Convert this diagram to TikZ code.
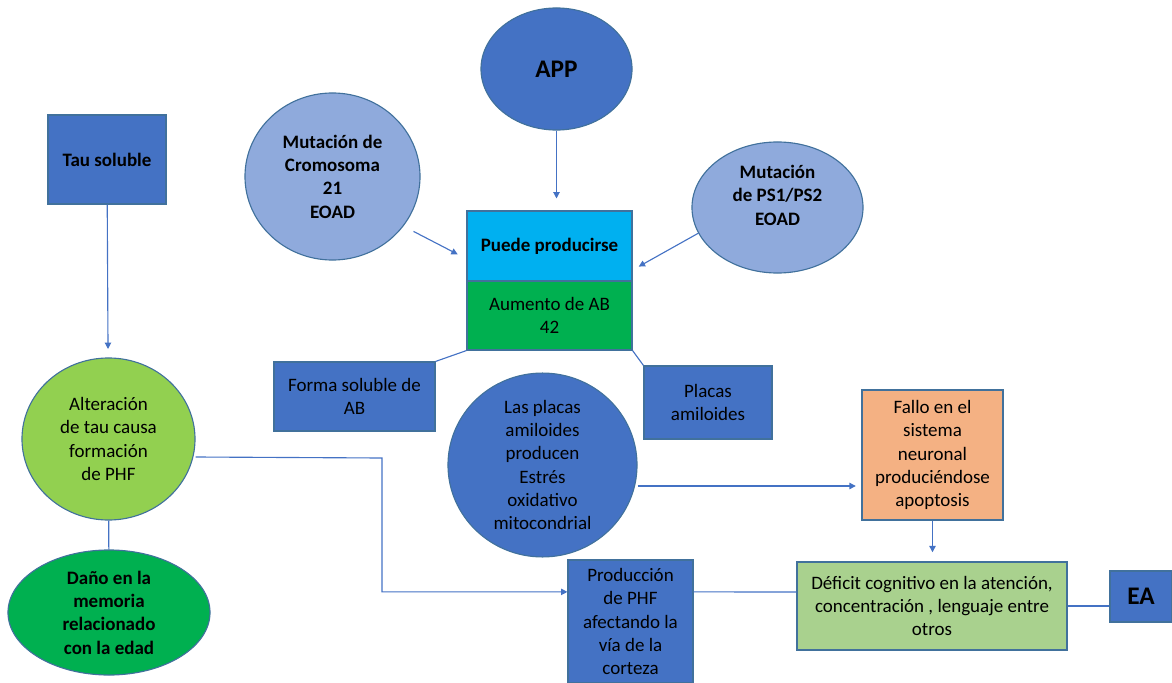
\documentclass[tikz,border=0pt]{standalone}
\usepackage{fontspec}
\setmainfont{Carlito}
\usetikzlibrary{shapes.geometric,arrows.meta}
\definecolor{azul}{HTML}{4472C4}
\definecolor{azulclaro}{HTML}{8FAADC}
\definecolor{celeste}{HTML}{00B0F0}
\definecolor{verde}{HTML}{00B050}
\definecolor{verdelima}{HTML}{92D050}
\definecolor{verdepalido}{HTML}{A9D18E}
\definecolor{naranja}{HTML}{F4B183}
\definecolor{borde}{HTML}{41719C}
\newcommand{\txt}{\fontsize{13.5}{16.6}\selectfont}

\begin{document}
\begin{tikzpicture}[x=0.025cm,y=-0.025cm,
    >={Triangle[length=4.5pt,width=4.5pt]},
    every node/.style={align=center,font=\txt,text=black,inner sep=0pt},
    caja/.style={rectangle,draw=borde,line width=0.8pt},
    elipse/.style={ellipse,draw=borde,line width=0.8pt},
    negrita/.style={font=\txt\bfseries},
    conn/.style={draw=azul,line width=0.8pt}]
    \useasboundingbox (0,0) rectangle (1172,683);

    % columna de tau
    \node[caja,negrita,fill=azul,minimum width=2.95cm,minimum height=2.225cm] (tau) at (107,159.5) {Tau soluble};
    \node[elipse,fill=verdelima,minimum width=4.325cm,minimum height=4.05cm] (alter) at (108.5,439) {Alteración\\de tau causa\\formación\\de PHF};
    \node[elipse,negrita,fill=verde,minimum width=5.05cm,minimum height=3.125cm] (dano) at (109,612.5) {Daño en la\\memoria\\relacionado\\con la edad};

    % parte central
    \node[elipse,fill=azul,minimum width=3.775cm,minimum height=3.05cm,font=\fontsize{18}{20}\selectfont\bfseries] (app) at (556.5,69) {APP};
    \node[elipse,negrita,fill=azulclaro,minimum width=4.375cm,minimum height=4.175cm] (mutcr) at (332.5,176.5) {Mutación de\\Cromosoma\\21\\EOAD};
    \node[elipse,fill=azulclaro,minimum width=4.275cm,minimum height=3.275cm,
        label={[negrita,yshift=0.31cm]center:Mutación\\de PS1/PS2\\EOAD}] (mutps) at (777.5,207.5) {};
    \node[caja,negrita,fill=celeste,minimum width=4.125cm,minimum height=1.75cm] (puede) at (549.5,246) {Puede producirse};
    \node[caja,fill=verde,minimum width=4.125cm,minimum height=1.725cm] (aumento) at (549.5,315.5) {Aumento de AB\\42};
    \node[caja,fill=azul,minimum width=4.025cm,minimum height=1.725cm] (forma) at (354.5,396.5) {Forma soluble de\\AB};
    \node[caja,fill=azul,minimum width=3.2cm,minimum height=1.825cm] (placas) at (708,402.5) {Placas\\amiloides};
    \node[elipse,fill=azul,minimum width=4.725cm,minimum height=4.35cm] (estres) at (542.5,465) {Las placas\\amiloides\\producen\\Estrés\\oxidativo\\mitocondrial};

    % parte derecha y final
    \node[caja,fill=naranja,minimum width=3.525cm,minimum height=3.25cm] (fallo) at (932.5,455) {Fallo en el\\sistema\\neuronal\\produciéndose\\apoptosis};
    \node[caja,fill=azul,minimum width=3.125cm,minimum height=3.075cm] (prod) at (630.5,621.5) {Producción\\de PHF\\afectando la\\vía de la\\corteza};
    \node[caja,fill=verdepalido,minimum width=6.75cm,minimum height=2.2cm] (deficit) at (932,606) {Déficit cognitivo en la atención,\\concentración , lenguaje entre\\otros};
    \node[caja,fill=azul,minimum width=1.55cm,minimum height=1.275cm,font=\fontsize{18}{20}\selectfont\bfseries] (ea) at (1141,596.5) {EA};

    % conectores
    \draw[conn,->,shorten >=6pt] (tau) -- (alter);
    \draw[conn] (alter) -- (dano);
    \draw[conn,->] ([yshift=-0.45cm]alter.east) -- (382,458) |- ([yshift=0.74cm]prod.west);
    \draw[conn,->,shorten >=8.5pt] (app.south) -- (app.south |- puede.north);
    \draw[conn,->,shorten <=8pt,shorten >=7pt] (mutcr.-35) -- ([yshift=-0.32cm]puede.west);
    \draw[conn,->,shorten >=5pt] (mutps.198) -- ([yshift=-0.6cm]puede.east);
    \draw[conn] (aumento.south west) -- (forma.north east);
    \draw[conn] (aumento.south east) -- (placas.north west);
    \draw[conn,->,shorten >=4pt] ([yshift=-0.525cm]estres.east) -- ([yshift=-0.525cm]estres.east -| fallo.west);
    \draw[conn,->,shorten >=6.5pt] (fallo.south) -- (fallo.south |- deficit.north);
    \draw[conn] ([yshift=0.74cm]prod.east) -- ([yshift=0.35cm]deficit.west);
    \draw[conn] (deficit.east) -- (deficit.east -| ea.west);
\end{tikzpicture}
\end{document}
